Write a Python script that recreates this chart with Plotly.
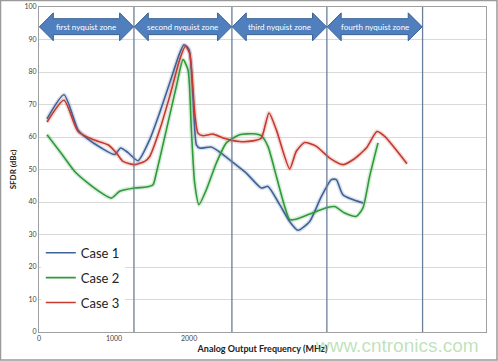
import plotly.graph_objects as go

# ---- data ----
freq_case1 = [107, 333, 520, 631, 831, 1008, 1088, 1186, 1319, 1475, 1608, 1741, 1874, 1931, 1998, 2051, 2097,
              2141, 2296, 2451, 2620, 2762, 2962, 3050, 3206, 3339, 3450, 3606, 3762, 3895, 3961, 4050, 4316]
sfdr_case1 = [65.6, 73.0, 62.2, 59.7, 56.6, 54.6, 56.6, 55.2, 52.7, 59.2, 67.5, 76.6, 85.8, 88.4, 86.9, 72.5, 57.6,
              56.6, 56.9, 54.6, 51.5, 48.9, 44.3, 44.8, 39.2, 34.0, 31.3, 34.0, 41.7, 46.9, 46.9, 42.2, 39.7]

freq_case2 = [107, 298, 476, 653, 831, 964, 1075, 1275, 1430, 1519, 1563, 1697, 1830, 1919, 1985, 2030, 2074,
              2131, 2230, 2363, 2496, 2673, 2850, 2960, 3050, 3162, 3273, 3339, 3406, 3606, 3828, 3939, 4072,
              4228, 4316, 4405, 4516]
sfdr_case2 = [60.7, 54.9, 49.4, 45.8, 42.8, 41.2, 43.3, 44.3, 44.6, 45.3, 48.9, 62.2, 75.6, 83.8, 80.7, 62.2, 45.8,
              39.2, 43.8, 52.0, 58.2, 60.7, 61.0, 60.4, 57.1, 47.9, 38.6, 34.6, 34.6, 36.3, 38.2, 38.6, 36.6,
              35.6, 38.2, 47.9, 58.2]

freq_case3 = [107, 333, 520, 719, 919, 1031, 1119, 1275, 1408, 1475, 1608, 1741, 1874, 1950, 2007, 2074, 2118,
              2185, 2318, 2451, 2673, 2850, 2960, 3064, 3162, 3339, 3428, 3539, 3695, 3873, 4050, 4183, 4361,
              4502, 4605, 4902]
sfdr_case3 = [64.6, 71.3, 61.7, 59.2, 57.6, 55.1, 52.5, 51.5, 52.5, 54.0, 62.2, 72.5, 83.8, 87.9, 85.8, 67.4, 61.2,
              60.4, 60.9, 59.7, 58.6, 58.8, 59.6, 67.4, 62.2, 50.2, 55.6, 58.3, 57.1, 53.5, 51.5, 53.0, 56.6,
              61.7, 60.2, 51.8]

series_names = ["Case 1", "Case 2", "Case 3"]
series_colors = ["#3d6399", "#2f9a3a", "#c43a2e"]

zone_edges = [0, 1265, 2570, 3835, 5110]
zone_labels = ["first nyquist zone", "second nyquist zone", "third nyquist zone", "fourth nyquist zone"]

x_tick_vals = [0, 1000, 2000]
y_tick_vals = [0, 10, 20, 30, 40, 50, 60, 70, 80, 90, 100]

X_MAX = 5955
FONT = "Lato, 'Noto Sans', sans-serif"

fig = go.Figure()

series = [(freq_case1, sfdr_case1), (freq_case2, sfdr_case2), (freq_case3, sfdr_case3)]
# soft glow under each line
for (xs, ys), col in zip(series, series_colors):
    fig.add_trace(go.Scatter(x=xs, y=ys, mode="lines", line=dict(color=col, width=4.5, shape="spline", smoothing=0.6),
                             opacity=0.18, showlegend=False, hoverinfo="skip"))
for i, ((xs, ys), name, col) in enumerate(zip(series, series_names, series_colors)):
    fig.add_trace(go.Scatter(x=xs, y=ys, mode="lines", name=name, legendgroup=name,
                             line=dict(color=col, width=1.6, shape="spline", smoothing=0.6)))

shapes = []
# zone boundary lines
for xe in zone_edges[1:]:
    shapes.append(dict(type="line", xref="x", yref="y", x0=xe, x1=xe, y0=0, y1=100,
                       line=dict(color="#6a7f99", width=1.3), layer="above"))

# double headed block arrows
y_tip, y_head_top, y_head_bot, y_body_top, y_body_bot = 93.9, 98.2, 89.6, 96.4, 91.5
head = 186
annotations = []
for k, lab in enumerate(zone_labels):
    a, b = zone_edges[k], zone_edges[k + 1]
    a += 5
    b -= 5
    path = (f"M {a},{y_tip} L {a+head},{y_head_top} L {a+head},{y_body_top} L {b-head},{y_body_top} "
            f"L {b-head},{y_head_top} L {b},{y_tip} L {b-head},{y_head_bot} L {b-head},{y_body_bot} "
            f"L {a+head},{y_body_bot} L {a+head},{y_head_bot} Z")
    shapes.append(dict(type="path", xref="x", yref="y", path=path,
                       fillcolor="#4f7fbd", line=dict(color="#3a6296", width=1), layer="above"))
    annotations.append(dict(x=(a + b) / 2, y=y_tip, xref="x", yref="y", text=lab, showarrow=False,
                            font=dict(family=FONT, size=8, color="white")))

# outer frame of the picture
shapes.append(dict(type="rect", xref="paper", yref="paper",
                   x0=-38.5 / 447, x1=1 + 11 / 447, y0=-28 / 325, y1=1 + 6.5 / 325,
                   line=dict(color="#9a9a9a", width=1.5)))

annotations.append(dict(x=0.80, y=-0.042, xref="paper", yref="paper", xanchor="center", yanchor="middle",
                        text="www.cntronics.com", showarrow=False,
                        font=dict(family="'Liberation Sans', Arial, sans-serif", size=19,
                                  color="rgba(140,200,130,0.55)")))

fig.update_layout(
    width=498, height=361,
    margin=dict(l=39, r=12, t=7, b=29, autoexpand=False),
    paper_bgcolor="white", plot_bgcolor="white",
    font=dict(family=FONT, size=8, color="#333333"),
    showlegend=True,
    legend=dict(x=0.004, y=0.29, xanchor="left", yanchor="top", bgcolor="white",
                font=dict(family=FONT, size=13, color="#222222"), tracegroupgap=5,
                itemwidth=30),
    shapes=shapes,
    annotations=annotations,
    xaxis=dict(range=[0, X_MAX], tickvals=x_tick_vals, ticktext=[str(v) for v in x_tick_vals],
               showgrid=False, zeroline=False, showline=True, linecolor="#a0a0a0", mirror=True,
               automargin=False,
               tickfont=dict(size=7, color="#444444"), ticks="",
               title=dict(text="<b>Analog Output Frequency (MHz)</b>", font=dict(size=9, color="#222222"),
                          standoff=4)),
    yaxis=dict(range=[0, 100], tickvals=y_tick_vals, showgrid=True, gridcolor="#d9d9d9", gridwidth=1,
               zeroline=False, showline=True, linecolor="#a0a0a0", mirror=True, automargin=False,
               tickfont=dict(size=7, color="#444444"), ticks="",
               title=dict(text="<b>SFDR (dBc)</b>", font=dict(size=8, color="#222222"), standoff=6)),
)

fig.write_html("out.html", config={"displayModeBar": False},
               post_script="document.body.style.margin='0';")
